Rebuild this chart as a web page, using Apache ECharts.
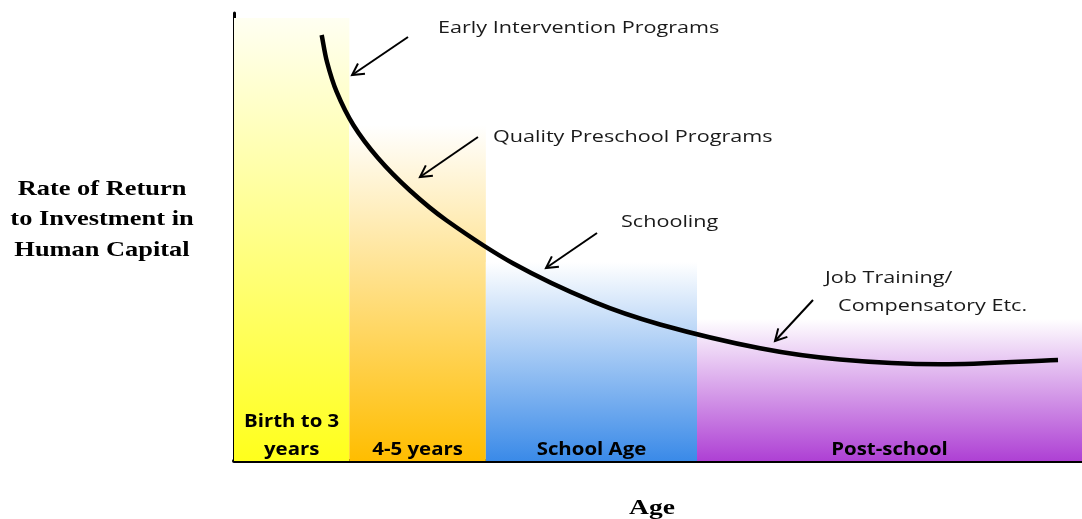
<!DOCTYPE html>
<html>
<head>
<meta charset="utf-8">
<script src="https://cdn.jsdelivr.net/npm/echarts@6/dist/echarts.min.js"></script>
<style>html,body{margin:0;padding:0;background:#fff;}#c{width:1082px;height:519px;}</style>
</head>
<body>
<div id="c"></div>
<script>
// Stage bands (x in abstract age units 0-100, y = rate of return 0-100)
const categories = ['Birth to 3\nyears', '4-5 years', 'School Age', 'Post-school'];
const bandStart = [0, 13.6, 29.7, 54.6];
const bandEnd = [13.6, 29.7, 54.6, 100];
const bandHeight = [98.9, 75.0, 44.4, 31.7];
const bandTopColor = ['#fffff2', '#ffffff', '#ffffff', '#ffffff'];
const bandBottomColor = ['#ffff1c', '#ffbd00', '#3a8ae8', '#ae40d4'];

// Rate of return curve
const curveX = [10.34, 10.97, 12.11, 14.07, 16.98, 20.75, 25.08, 32.94, 42.37, 50.24, 62.03, 71.46, 83.25, 97.17];
const curveY = [95.09, 89.06, 82.37, 75.00, 67.63, 60.38, 53.68, 44.08, 35.56, 30.47, 25.16, 22.66, 21.58, 22.54];

// Annotations
const annoText = ['Early Intervention Programs', 'Quality Preschool Programs', 'Schooling', 'Job Training/', 'Compensatory Etc.'];
const annoX = [24.06, 30.54, 45.64, 69.69, 71.23];
const annoY = [96.65, 72.32, 53.35, 40.85, 34.6];
const arrowFrom = [[20.52, 94.64], [28.77, 72.32], [42.81, 50.89], [68.28, 35.94]];
const arrowTo = [[13.92, 86.16], [21.93, 63.39], [36.79, 43.08], [63.80, 26.79]];

const chart = echarts.init(document.getElementById('c'), null, {renderer: 'canvas'});

const bandData = categories.map((c, i) => [bandStart[i], bandEnd[i], bandHeight[i], i]);
const curveData = curveX.map((x, i) => [x, curveY[i]]);
const arrowData = arrowFrom.map((f, i) => [f[0], f[1], arrowTo[i][0], arrowTo[i][1]]);
const annoData = annoText.map((t, i) => [annoX[i], annoY[i], i]);

// smooth curve through the data points (projected with the chart's own axes)
function renderCurve(params, api) {
  if (params.dataIndex !== 0) return null;
  const P = curveX.map((x, i) => api.coord([x, curveY[i]]));
  const n = P.length;
  const dist = (a, b) => Math.hypot(b[0] - a[0], b[1] - a[1]);
  const T = P.map((p, i) => {
    const a = P[Math.max(0, i - 1)], b = P[Math.min(n - 1, i + 1)];
    const d = dist(a, b) || 1;
    return [(b[0] - a[0]) / d, (b[1] - a[1]) / d];
  });
  let d = 'M' + P[0][0] + ' ' + P[0][1];
  for (let i = 0; i < n - 1; i++) {
    const L = dist(P[i], P[i + 1]) / 3;
    const c1 = [P[i][0] + T[i][0] * L, P[i][1] + T[i][1] * L];
    const c2 = [P[i + 1][0] - T[i + 1][0] * L, P[i + 1][1] - T[i + 1][1] * L];
    d += ' C' + c1[0] + ' ' + c1[1] + ' ' + c2[0] + ' ' + c2[1] + ' ' + P[i + 1][0] + ' ' + P[i + 1][1];
  }
  return {type: 'path', shape: {pathData: d}, style: {stroke: '#000', lineWidth: 4.5, fill: null, lineCap: 'butt'}};
}

chart.setOption({
  animation: false,
  grid: {left: 234, right: 0, top: 13, bottom: 58},
  xAxis: {
    type: 'value', min: 0, max: 100,
    axisLine: {show: true, onZero: false, lineStyle: {color: '#000', width: 4}},
    axisTick: {show: false}, axisLabel: {show: false}, splitLine: {show: false}
  },
  yAxis: {
    type: 'value', min: 0, max: 100,
    axisLine: {show: true, onZero: false, lineStyle: {color: '#000', width: 3}},
    axisTick: {show: false}, axisLabel: {show: false}, splitLine: {show: false}
  },
  graphic: [
    {type: 'text', x: 102, y: 174, scaleX: 1.2, style: {
      text: 'Rate of Return\nto Investment in\nHuman Capital',
      font: 'bold 22px "Liberation Serif", "Times New Roman", serif', fill: '#000',
      align: 'center', verticalAlign: 'top', lineHeight: 30.5
    }},
    {type: 'text', x: 652, y: 508, scaleX: 1.25, style: {
      text: 'Age', font: 'bold 22px "Liberation Serif", "Times New Roman", serif', fill: '#000',
      align: 'center', verticalAlign: 'middle'
    }}
  ],
  series: [
    {
      type: 'custom', z: 1,
      renderItem: function (params, api) {
        const i = api.value(3);
        const p0 = api.coord([api.value(0), api.value(2)]);
        const p1 = api.coord([api.value(1), 0]);
        const cx = (p0[0] + p1[0]) / 2;
        return {
          type: 'group',
          children: [
            {type: 'rect', shape: {x: p0[0], y: p0[1], width: p1[0] - p0[0], height: p1[1] - p0[1]},
             style: {fill: new echarts.graphic.LinearGradient(0, 0, 0, 1, [
               {offset: 0, color: bandTopColor[i]}, {offset: 1, color: bandBottomColor[i]}])}},
            {type: 'text', x: cx, y: p1[1] + 3, scaleX: 1.2, style: {
              text: categories[i], align: 'center', verticalAlign: 'bottom',
              font: 'bold 17px "Open Sans", sans-serif', fill: '#000', lineHeight: 28
            }}
          ]
        };
      },
      encode: {x: [0, 1], y: 2},
      data: bandData
    },
    {
      type: 'custom', z: 3, silent: true,
      renderItem: renderCurve,
      encode: {x: 0, y: 1},
      data: curveData
    },
    {
      type: 'custom', z: 4,
      renderItem: function (params, api) {
        const a = api.coord([api.value(0), api.value(1)]);
        const b = api.coord([api.value(2), api.value(3)]);
        const ang = Math.atan2(b[1] - a[1], b[0] - a[0]);
        const L = 13, w = 0.5;
        const h1 = [b[0] - L * Math.cos(ang - w), b[1] - L * Math.sin(ang - w)];
        const h2 = [b[0] - L * Math.cos(ang + w), b[1] - L * Math.sin(ang + w)];
        return {
          type: 'group',
          children: [
            {type: 'line', shape: {x1: a[0], y1: a[1], x2: b[0], y2: b[1]}, style: {stroke: '#000', lineWidth: 2}},
            {type: 'polyline', shape: {points: [h1, b, h2]}, style: {stroke: '#000', lineWidth: 2, fill: null}}
          ]
        };
      },
      encode: {x: [0, 2], y: [1, 3]},
      data: arrowData
    },
    {
      type: 'custom', z: 4,
      renderItem: function (params, api) {
        const p = api.coord([api.value(0), api.value(1)]);
        return {type: 'text', x: p[0], y: p[1], scaleX: 1.27, style: {
          text: annoText[api.value(2)], align: 'left', verticalAlign: 'middle',
          font: '17px "Open Sans", sans-serif', fill: '#1a1a1a'
        }};
      },
      encode: {x: 0, y: 1},
      data: annoData
    }
  ]
});
</script>
</body>
</html>
